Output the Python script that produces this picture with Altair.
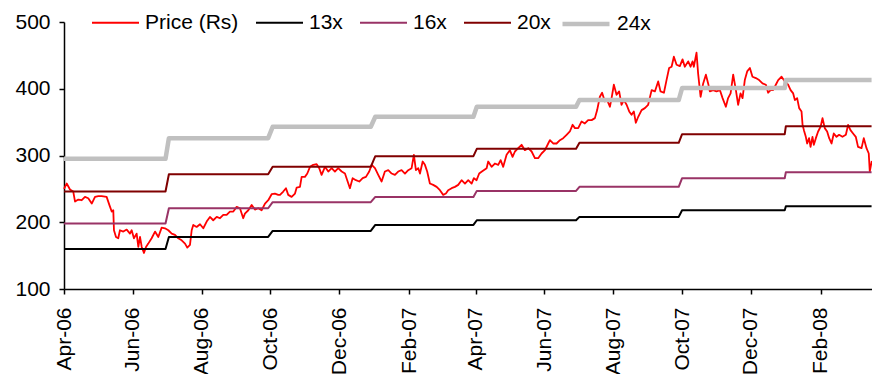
import altair as alt
import pandas as pd

# ---------------- data ----------------
BASE_DATE = "2006-04-01"

# price (Rs): days since 2006-04-01 and closing price, in four stretches
days_a = [0.0, 2.4, 5.3, 8.2, 9.8, 12.7, 15.7, 18.6, 21.5, 24.6, 27.5, 30.4, 33.4, 37.8, 40.2, 42.3,
          43.7, 44.3, 46.1, 48.1, 49.6, 52.6, 55.6, 58.5, 60.0, 62.0, 64.4, 65.9, 67.4, 68.9, 70.9,
          72.7, 74.7, 77.7, 80.7, 83.6, 86.6, 89.5, 92.5, 95.5, 98.4, 101.3, 104.3, 107.3, 109.3,
          111.7, 113.2, 114.6, 117.6, 120.6, 123.5, 126.5, 129.4, 132.3, 135.4, 138.3, 141.2, 144.2,
          147.1, 150.1, 153.1, 156.0, 158.9, 160.4, 163.4, 166.4, 169.3, 172.2, 175.2, 178.2, 181.1,
          184.1, 187.0, 190.0]
price_a = [250, 258, 249, 246, 231, 234, 233, 238, 236, 228, 238, 239, 239, 238, 226, 216,
           218, 188, 178, 176, 188, 186, 189, 183, 188, 176, 183, 163, 178, 163, 154,
           163, 168, 176, 186, 178, 192, 191, 188, 183, 181, 176, 173, 168, 162,
           166, 188, 196, 193, 197, 191, 201, 208, 203, 208, 206, 211, 211,
           216, 216, 223, 221, 206, 213, 218, 226, 219, 221, 218, 228, 233,
           242, 243, 241]

days_b = [191.5, 194.4, 196.8, 198.8, 201.8, 204.8, 206.3, 209.2, 210.7, 213.6, 215.7, 218.1, 221.0,
          224.0, 226.3, 228.4, 231.4, 234.3, 237.3, 240.2, 243.1, 246.2, 249.1, 251.1, 253.5, 255.9,
          258.8, 261.8, 264.8, 267.7, 270.6, 272.8, 275.7, 278.6, 281.6, 284.5, 287.5, 290.5, 293.4,
          296.3, 299.3, 302.3, 305.2, 308.2, 310.2, 312.0, 314.1, 315.6, 318.0, 320.0, 322.0, 324.4,
          327.3, 330.4, 333.3, 336.2, 338.6, 340.6, 343.7, 346.6, 349.5, 352.5, 355.5, 358.4, 361.4,
          363.4, 365.8, 368.1, 370.5]
price_b = [241, 246, 251, 241, 238, 243, 252, 253, 268, 268, 273, 283, 286,
           287, 281, 271, 283, 276, 281, 276, 281, 276, 273, 263, 251, 266,
           263, 261, 266, 268, 276, 286, 281, 271, 261, 276, 278, 273, 271,
           276, 278, 273, 278, 281, 301, 278, 281, 273, 291, 286, 276, 258,
           256, 253, 248, 241, 243, 248, 251, 253, 256, 263, 258, 263, 258,
           266, 263, 273, 276]

days_c = [374.7, 376.1, 379.1, 382.0, 385.0, 387.1, 389.4, 392.4, 395.3, 397.7, 399.8, 402.7, 405.7,
          408.6, 411.6, 414.6, 417.5, 420.4, 423.4, 426.4, 429.3, 430.8, 433.7, 436.7, 439.7, 442.6,
          445.6, 448.5, 450.9, 453.0, 455.9, 458.9, 461.8, 464.7, 467.8, 470.7, 472.7, 475.1, 477.1,
          479.5, 481.6, 484.0, 485.5, 487.5, 489.9, 492.2, 494.3, 496.4, 498.8, 501.1, 503.2, 505.2,
          507.0, 509.1, 512.1, 515.0, 517.9, 521.0, 523.9, 526.8, 528.9, 531.9, 534.2, 536.5, 538.7,
          540.7, 543.1]
price_c = [281, 291, 283, 288, 286, 293, 283, 301, 308, 298, 306, 311, 316,
           308, 311, 306, 296, 296, 303, 308, 318, 323, 318, 318, 323, 326,
           331, 336, 346, 341, 341, 351, 348, 353, 353, 356, 368, 388, 394,
           381, 383, 373, 386, 406, 391, 396, 376, 383, 376, 366, 361, 366,
           349, 358, 368, 371, 376, 398, 396, 411, 396, 394, 413, 431, 433,
           448, 436]

days_d = [546.0, 548.4, 550.4, 553.4, 555.5, 557.3, 558.4, 560.8, 562.2, 564.4, 566.7, 569.1, 571.1,
          572.6, 575.5, 578.5, 581.5, 583.9, 586.8, 588.8, 591.0, 593.3, 595.7, 597.7, 599.8, 601.6,
          603.6, 605.7, 608.1, 610.4, 613.4, 616.3, 619.3, 622.3, 624.3, 626.4, 628.7, 631.1, 633.2,
          636.2, 639.1, 642.0, 644.2, 646.5, 648.0, 650.0, 651.8, 653.9, 654.8, 656.0, 657.7, 658.9,
          660.6, 661.9, 663.6, 664.8, 666.6, 668.6, 670.8, 672.5, 674.5, 676.6, 678.4, 680.5, 682.5,
          684.9, 687.2, 690.2, 693.2, 695.2, 697.3, 699.6, 702.0, 704.0, 707.1, 709.1, 711.5, 713.5,
          714.4, 716.2]
price_d = [434, 444, 433, 441, 433, 441, 433, 454, 423, 388, 408, 421, 408,
           396, 398, 396, 398, 386, 373, 386, 393, 421, 398, 376, 393, 386,
           413, 426, 431, 418, 416, 413, 408, 406, 394, 398, 398, 406, 413,
           418, 411, 406, 398, 393, 383, 386, 371, 366, 346, 338, 328, 318,
           326, 313, 328, 316, 326, 336, 343, 356, 341, 336, 326, 318, 333,
           328, 331, 328, 331, 346, 338, 333, 328, 313, 311, 326, 311, 303,
           276, 292]

# P/E band lines: one value per quarter (first and last trading day of each quarter)
quarter_start = ["2006-04-01", "2006-07-03", "2006-10-03", "2007-01-02",
                 "2007-04-02", "2007-07-02", "2007-10-01", "2008-01-01"]
quarter_end = ["2006-06-30", "2006-09-29", "2006-12-29", "2007-03-30",
               "2007-06-29", "2007-09-28", "2007-12-31", "2008-03-17"]
band_13x = [160, 178, 187, 196, 203, 208, 218, 224]
band_16x = [198, 221, 230, 238, 247, 253, 266, 275]
band_20x = [246, 272, 283, 299, 310, 319, 332, 344]
band_24x = [295, 326, 343, 358, 373, 383, 401, 413]

thin_names = ["Price (Rs)", "13x", "16x", "20x"]
thin_colors = ["#FF0000", "#000000", "#993366", "#800000"]
thin_widths = [1.8, 2.0, 2.0, 2.0]
thick_names = ["24x"]
thick_colors = ["#C0C0C0"]
thick_width = 4.5

tick_months = ["2006-04-01", "2006-06-01", "2006-08-01", "2006-10-01", "2006-12-01",
               "2007-02-01", "2007-04-01", "2007-06-01", "2007-08-01", "2007-10-01",
               "2007-12-01", "2008-02-01"]
y_ticks = [100, 200, 300, 400, 500]

# ---------------- tables ----------------
width_of = dict(zip(thin_names, thin_widths))
base = pd.Timestamp(BASE_DATE)
rows = []
for dl, pl in [(days_a, price_a), (days_b, price_b), (days_c, price_c), (days_d, price_d)]:
    assert len(dl) == len(pl)
    for d, p in zip(dl, pl):
        rows.append({"date": base + pd.to_timedelta(d, unit="D"), "value": p,
                     "series": "Price (Rs)", "w": width_of["Price (Rs)"]})

for name, vals in [("13x", band_13x), ("16x", band_16x), ("20x", band_20x), ("24x", band_24x)]:
    for s, e, v in zip(quarter_start, quarter_end, vals):
        w = width_of.get(name, thick_width)
        rows.append({"date": pd.Timestamp(s), "value": v, "series": name, "w": w})
        rows.append({"date": pd.Timestamp(e), "value": v, "series": name, "w": w})

df = pd.DataFrame(rows)
df_thin = df[df["series"].isin(thin_names)]
df_thick = df[df["series"].isin(thick_names)]


def dt(s):
    t = pd.Timestamp(s)
    return alt.DateTime(year=t.year, month=t.month, date=t.day, hours=t.hour)


end_date = base + pd.to_timedelta(716.4, unit="D")
FONT = "Liberation Sans"

common_legend = dict(
    title=None, orient="none", direction="horizontal",
    symbolType="stroke", symbolSize=2209, labelFont=FONT, labelFontSize=21,
    labelColor="black", labelOffset=5, columnPadding=13, padding=0,
)

x_enc = alt.X("date:T",
              scale=alt.Scale(domain=[dt(BASE_DATE), dt(end_date)]),
              axis=alt.Axis(values=[dt(m) for m in tick_months], format="%b-%y",
                            labelAngle=270, labelPadding=13, title=None,
                            labelFlush=False, labelOverlap=False))
y_enc = alt.Y("value:Q",
              scale=alt.Scale(domain=[100, 500]),
              axis=alt.Axis(values=y_ticks, title=None, labelPadding=9,
                            labelFlush=False, labelOverlap=False))

thin = alt.Chart(df_thin).mark_line(strokeCap="butt", strokeJoin="round").encode(
    x=x_enc, y=y_enc,
    color=alt.Color("series:N", scale=alt.Scale(domain=thin_names, range=thin_colors),
                    legend=alt.Legend(legendX=27, legendY=-24, symbolStrokeWidth=2,
                                      **common_legend)),
    strokeWidth=alt.StrokeWidth("w:Q", scale=None, legend=None),
    detail="series:N",
)

thick = alt.Chart(df_thick).mark_line(strokeCap="butt", strokeJoin="round",
                                      strokeWidth=thick_width).encode(
    x=x_enc, y=y_enc,
    stroke=alt.Stroke("series:N", scale=alt.Scale(domain=thick_names, range=thick_colors),
                      legend=alt.Legend(legendX=496, legendY=-24, symbolStrokeWidth=thick_width,
                                        **common_legend)),
)

chart = alt.layer(thin, thick).properties(
    width=808, height=267,
    autosize=alt.AutoSizeParams(type="none"),
    padding={"left": 64, "top": 22, "right": 0, "bottom": 85},
).configure_axis(
    grid=False, domainColor="black", tickColor="black", labelColor="black",
    labelFont=FONT, labelFontSize=21, tickSize=5, domainWidth=1.5, tickWidth=1.5,
).configure_view(strokeWidth=0)

chart.save("out.html", embed_options={"renderer": "svg", "actions": False})
